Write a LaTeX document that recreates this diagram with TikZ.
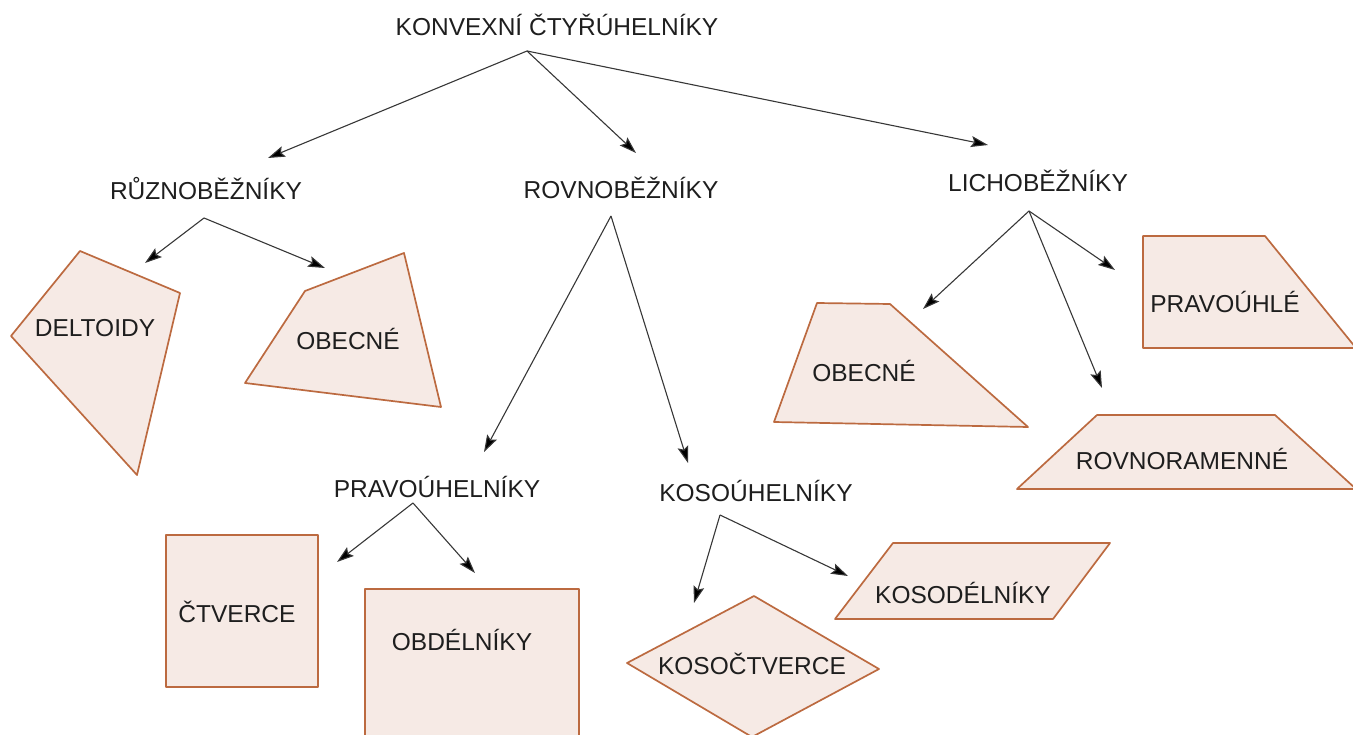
\documentclass[tikz,border=0pt]{standalone}
\usepackage{fontspec}
\setmainfont{Liberation Sans}
\usetikzlibrary{arrows.meta}
\definecolor{tvarfill}{RGB}{246,234,229}
\definecolor{tvardraw}{RGB}{188,106,64}
\definecolor{sipka}{RGB}{55,55,55}
\definecolor{popis}{RGB}{30,30,30}

\begin{document}
\begin{tikzpicture}[x=1pt,y=-1pt,
  every node/.style={font=\fontsize{24.5}{29}\selectfont,text=popis,anchor=base,inner sep=0pt},
  tvar/.style={fill=tvarfill,draw=tvardraw,line width=1.7pt,line join=round},
  sip/.style={draw=sipka,line width=1.1pt,-{Stealth[length=17pt,width=11pt,inset=3pt,fill=black]}}]
\clip (0,0) rectangle (1353,735);
% nazvy skupin
\node (konv) at (557,36) {KONVEXNÍ ČTYŘÚHELNÍKY};
\node (ruzno) at (206,200) {RŮZNOBĚŽNÍKY};
\node (rovno) at (621,199) {ROVNOBĚŽNÍKY};
\node (licho) at (1038,192) {LICHOBĚŽNÍKY};
\node (pravo) at (437,497) {PRAVOÚHELNÍKY};
\node (koso) at (756,501) {KOSOÚHELNÍKY};
% tvary
\draw[tvar] (80,251) -- (180,293) -- (137,475) -- (11,336) -- cycle;
\draw[tvar] (305,291) -- (404,253) -- (441,407) -- (245,383) -- cycle;
\draw[tvar] (817,303) -- (890,304) -- (1028,427) -- (774,422) -- cycle;
\draw[tvar] (1143,236) -- (1265,236) -- (1356,348) -- (1143,348) -- cycle;
\draw[tvar] (1097,415) -- (1275,415) -- (1356,489) -- (1017,489) -- cycle;
\draw[tvar] (166,535) rectangle (318,687);
\draw[tvar] (365,589) rectangle (579,745);
\draw[tvar] (754,596) -- (879,669) -- (752,737) -- (627,663) -- cycle;
\draw[tvar] (893,543) -- (1110,543) -- (1053,619) -- (835,619) -- cycle;
% popisy tvaru
\node (deltoid) at (95,337) {DELTOIDY};
\node (obecne1) at (348,350) {OBECNÉ};
\node (obecne2) at (864,382) {OBECNÉ};
\node (pravouhle) at (1225,313) {PRAVOÚHLÉ};
\node (rovnoram) at (1182,469) {ROVNORAMENNÉ};
\node (ctverec) at (237,622) {ČTVERCE};
\node (obdelnik) at (462,650) {OBDÉLNÍKY};
\node (kosoctv) at (752,674) {KOSOČTVERCE};
\node (kosodel) at (963,603) {KOSODÉLNÍKY};
% vychozi body sipek
\coordinate (konv-o) at (527,51);
\coordinate (ruzno-o) at (204,218);
\coordinate (rovno-o) at (611,216);
\coordinate (licho-o) at (1029,211);
\coordinate (pravo-o) at (413,503);
\coordinate (koso-o) at (720,515);
% konce sipek
\coordinate (k1) at (268,158);
\coordinate (k2) at (636,153);
\coordinate (k3) at (988,145);
\coordinate (r1) at (145,263);
\coordinate (r2) at (325,268);
\coordinate (v1) at (484,452);
\coordinate (v2) at (688,463);
\coordinate (l1) at (923,309);
\coordinate (l2) at (1115,270);
\coordinate (l3) at (1102,388);
\coordinate (p1) at (337,562);
\coordinate (p2) at (475,573);
\coordinate (s1) at (694,603);
\coordinate (s2) at (848,576);
\foreach \a/\b in {konv-o/k1,konv-o/k2,konv-o/k3,ruzno-o/r1,ruzno-o/r2,rovno-o/v1,rovno-o/v2,
  licho-o/l1,licho-o/l2,licho-o/l3,pravo-o/p1,pravo-o/p2,koso-o/s1,koso-o/s2}
  \draw[sip] (\a) -- (\b);
\end{tikzpicture}
\end{document}
